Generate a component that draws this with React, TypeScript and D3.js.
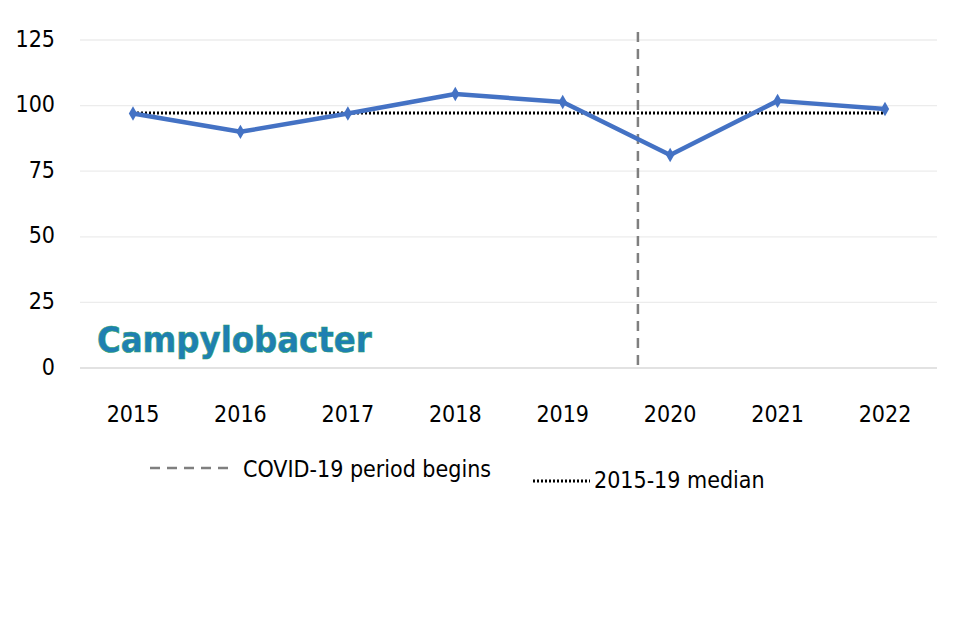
import * as d3 from "d3";

const years = ["2015", "2016", "2017", "2018", "2019", "2020", "2021", "2022"];
const values = [97, 90, 97, 104.4, 101.4, 81.2, 101.8, 98.7];
const median = 97.2;
const yTicks = [0, 25, 50, 75, 100, 125];

const W = 960;
const H = 640;
const font = "'Liberation Sans Narrow', 'DejaVu Sans Condensed', sans-serif";

export default function App() {
  const x = d3.scalePoint<string>().domain(years).range([133, 885]);
  const step = x.step();
  const y = d3.scaleLinear().domain([0, 125]).range([368, 40]);
  const line = d3
    .line<number>()
    .x((_, i) => x(years[i])!)
    .y((d) => y(d));
  const covidX = x("2019")! + step * 0.7;
  const diamond = d3.symbol(d3.symbolDiamond, 60)()!;

  return (
    <svg width={W} height={H} style={{ position: "absolute", left: 0, top: 0, background: "#fff" }}>
      {yTicks.map((t) => (
        <g key={t}>
          <line x1={80} x2={937} y1={y(t)} y2={y(t)} stroke={t === 0 ? "#d9d9d9" : "#ececec"} strokeWidth={1.3} />
          <text x={55} y={y(t)} textAnchor="end" dominantBaseline="middle" fontFamily={font} fontSize={23} fill="#000">
            {t}
          </text>
        </g>
      ))}
      {years.map((yr) => (
        <text key={yr} x={x(yr)} y={415} textAnchor="middle" dominantBaseline="middle" fontFamily={font} fontSize={23}>
          {yr}
        </text>
      ))}
      <line x1={covidX} x2={covidX} y1={32} y2={368} stroke="#7f7f7f" strokeWidth={2.5} strokeDasharray="10,7" />
      <line x1={x("2015")} x2={x("2022")} y1={y(median)} y2={y(median)} stroke="#000" strokeWidth={3} strokeDasharray="2,2" />
      <path d={line(values)!} fill="none" stroke="#4472c4" strokeWidth={4.5} strokeLinejoin="round" />
      {values.map((v, i) => (
        <path key={i} d={diamond} transform={`translate(${x(years[i])},${y(v)})`} fill="#4472c4" />
      ))}
      <text x={97} y={352} fontFamily={font} fontSize={36} fontWeight="bold" fill="#1f7fb3" stroke="#2aa36b" strokeWidth={0.6}>
        Campylobacter
      </text>
      <line x1={150} x2={230} y1={468} y2={468} stroke="#7f7f7f" strokeWidth={2.5} strokeDasharray="10,7" />
      <text x={243} y={470} dominantBaseline="middle" fontFamily={font} fontSize={23}>
        COVID-19 period begins
      </text>
      <line x1={533} x2={590} y1={481} y2={481} stroke="#000" strokeWidth={3} strokeDasharray="2,2" />
      <text x={594} y={481} dominantBaseline="middle" fontFamily={font} fontSize={23}>
        2015-19 median
      </text>
    </svg>
  );
}
